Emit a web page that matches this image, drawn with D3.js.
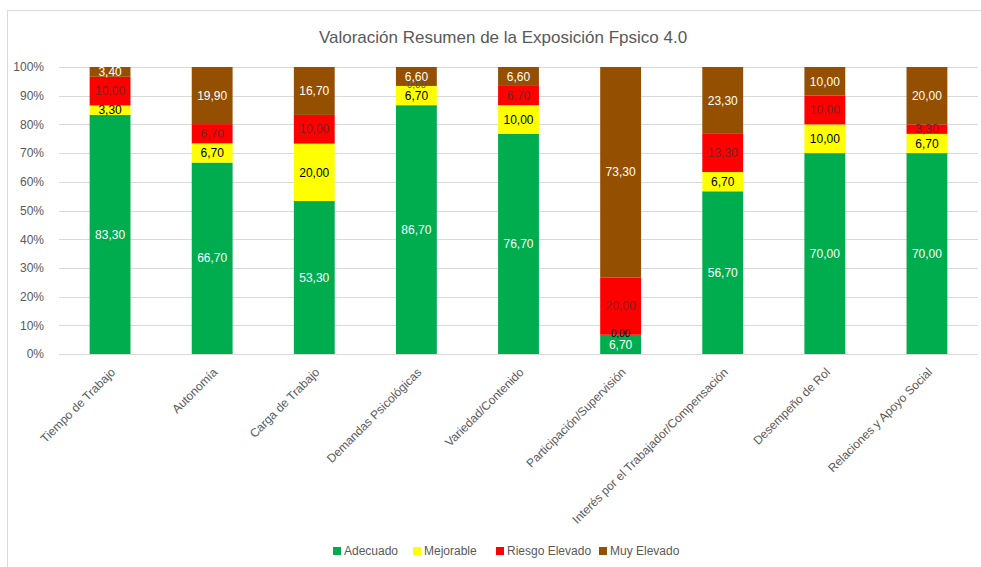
<!DOCTYPE html>
<html>
<head>
    <title>Valoración Resumen</title>
    <script src="https://unpkg.com/d3@7/dist/d3.min.js"></script>
    <style>
        body { margin: 0; background: white; }
        text { font-family: "Liberation Sans", Arial, sans-serif; }
    </style>
</head>
<body>
    <svg width="981" height="567"></svg>
    <script>
        const categories = ['Tiempo de Trabajo', 'Autonomía', 'Carga de Trabajo', 'Demandas Psicológicas',
            'Variedad/Contenido', 'Participación/Supervisión', 'Interés por el Trabajador/Compensación',
            'Desempeño de Rol', 'Relaciones y Apoyo Social'];
        const adecuado   = [83.3, 66.7, 53.3, 86.7, 76.7, 6.7, 56.7, 70.0, 70.0];
        const mejorable  = [3.3, 6.7, 20.0, 6.7, 10.0, 0.0, 6.7, 10.0, 6.7];
        const riesgo     = [10.0, 6.7, 10.0, 0.0, 6.7, 20.0, 13.3, 10.0, 3.3];
        const muyElevado = [3.4, 19.9, 16.7, 6.6, 6.6, 73.3, 23.3, 10.0, 20.0];
        const seriesNames = ['Adecuado', 'Mejorable', 'Riesgo Elevado', 'Muy Elevado'];
        const yTicks = [0, 10, 20, 30, 40, 50, 60, 70, 80, 90, 100];

        const colors = ['#00ad4e', '#ffff00', '#ff0000', '#954f00'];
        const labelColors = ['#ffffff', '#000000', '#7a2222', '#ffffff'];

        const svg = d3.select('svg');

        // chart frame
        svg.append('rect')
            .attr('x', 7.5).attr('y', 10.5)
            .attr('width', 990).attr('height', 600)
            .attr('fill', 'none').attr('stroke', '#d9d9d9');

        const x = d3.scaleBand().domain(categories).range([59, 978]).paddingInner(0.6).paddingOuter(0.3);
        const y = d3.scaleLinear().domain([0, 100]).range([354, 67]);

        // gridlines
        svg.append('g').selectAll('line').data(yTicks).join('line')
            .attr('x1', 59).attr('x2', 978)
            .attr('y1', d => Math.round(y(d)) + 0.5).attr('y2', d => Math.round(y(d)) + 0.5)
            .attr('stroke', '#d9d9d9').attr('stroke-width', 1);

        // y axis labels
        const yAxis = svg.append('g')
            .attr('transform', 'translate(47,0)')
            .call(d3.axisLeft(y).tickValues(yTicks).tickFormat(d => d + '%').tickSize(0));
        yAxis.select('.domain').remove();
        yAxis.selectAll('text').attr('fill', '#595959').attr('font-size', 12)
            .style('font-family', '"Liberation Sans", Arial, sans-serif');

        // stacked data
        const table = categories.map((c, i) => ({
            cat: c, Adecuado: adecuado[i], Mejorable: mejorable[i],
            'Riesgo Elevado': riesgo[i], 'Muy Elevado': muyElevado[i]
        }));
        const stack = d3.stack().keys(seriesNames)(table);

        const layers = svg.append('g').selectAll('g').data(stack).join('g')
            .attr('fill', (d, i) => colors[i]);

        layers.selectAll('rect').data(d => d).join('rect')
            .attr('x', d => x(d.data.cat))
            .attr('width', x.bandwidth())
            .attr('y', d => y(d[1]))
            .attr('height', d => y(d[0]) - y(d[1]));

        // data labels (zero values a bit smaller, they sit on a boundary)
        const fmt = v => d3.format('.2f')(v).replace('.', ',');
        stack.forEach((layer, si) => {
            svg.append('g').selectAll('text').data(layer).join('text')
                .attr('x', d => x(d.data.cat) + x.bandwidth() / 2)
                .attr('y', d => y((d[0] + d[1]) / 2) - (d[1] - d[0] === 0 ? 1 : 0))
                .attr('dy', '0.35em')
                .attr('text-anchor', 'middle')
                .attr('font-size', d => d[1] - d[0] === 0 ? 10 : 12)
                .attr('fill', d => (d[1] - d[0] === 0 && si === 2) ? '#595959' : labelColors[si])
                .text(d => fmt(d[1] - d[0]));
        });

        // x axis labels
        const xAxis = svg.append('g')
            .attr('transform', 'translate(0,354)')
            .call(d3.axisBottom(x).tickSize(0));
        xAxis.select('.domain').remove();
        xAxis.selectAll('text')
            .attr('fill', '#595959').attr('font-size', 12)
            .style('font-family', '"Liberation Sans", Arial, sans-serif')
            .attr('text-anchor', 'end')
            .attr('transform', 'translate(3,16) rotate(-45)')
            .attr('dy', '0.35em').attr('y', 0).attr('x', 0);

        // title
        svg.append('text')
            .attr('x', 503).attr('y', 43)
            .attr('text-anchor', 'middle')
            .attr('font-size', 17)
            .attr('fill', '#595959')
            .text('Valoración Resumen de la Exposición Fpsico 4.0');

        // legend
        const legendX = [333, 413, 496, 599];
        const legend = svg.append('g').selectAll('g').data(seriesNames).join('g')
            .attr('transform', (d, i) => `translate(${legendX[i]},551)`);
        legend.append('rect')
            .attr('x', 0).attr('y', -4).attr('width', 8).attr('height', 8)
            .attr('fill', (d, i) => colors[i]);
        legend.append('text')
            .attr('x', 11).attr('dy', '0.35em')
            .attr('font-size', 12).attr('fill', '#595959')
            .text(d => d);
    </script>
</body>
</html>
